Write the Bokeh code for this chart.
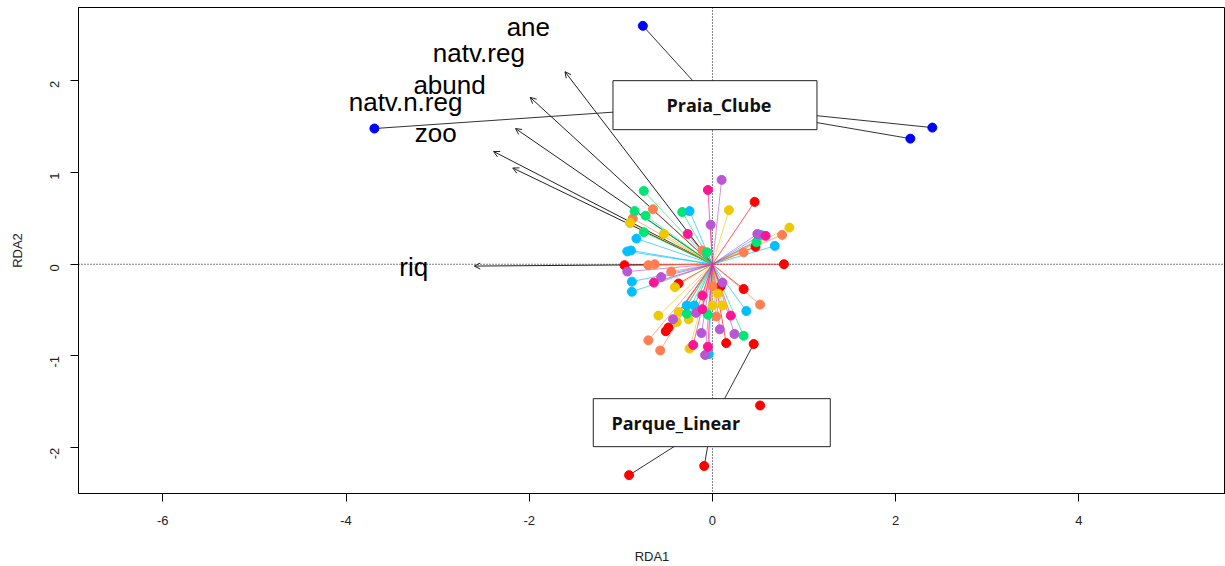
import math
from bokeh.plotting import figure
from bokeh.models import ColumnDataSource, Span, Arrow, OpenHead, Range1d, FixedTicker
from bokeh.embed import file_html
from bokeh.resources import INLINE
from bokeh.core.properties import value

# ---------------- data ----------------
# Site scores (RDA1, RDA2) by group
red_x = [0.46, 0.47, 0.78, -0.96, -0.37, -0.48, -0.51, 0.34, 0.09, 0.15]
red_y = [0.68, 0.19, 0.00, -0.01, -0.21, -0.69, -0.73, -0.27, -0.24, -0.86]

orange_x = [-0.65, -0.87, -0.11, -0.70, -0.63, -0.45, 0.76, 0.34, 0.00, 0.52, 0.04, -0.70, -0.57]
orange_y = [0.60, 0.50, 0.15, -0.01, 0.00, -0.08, 0.32, 0.13, -0.24, -0.44, -0.57, -0.83, -0.94]

gold_x = [-0.90, -0.53, 0.18, 0.84, -0.41, 0.00, 0.11, 0.06, -0.37, -0.26, -0.59, -0.39, -0.25]
gold_y = [0.45, 0.33, 0.59, 0.40, -0.25, -0.45, -0.45, -0.32, -0.52, -0.60, -0.56, -0.63, -0.92]

green_x = [-0.75, -0.85, -0.33, -0.73, -0.75, -0.06, 0.48, -0.28, -0.05, 0.34]
green_y = [0.80, 0.58, 0.57, 0.53, 0.35, 0.13, 0.24, -0.54, -0.55, -0.78]

sky_x = [-0.25, -0.83, -0.93, -0.89, 0.53, 0.68, -0.88, -0.88, -0.28, -0.20, 0.37, -0.04]
sky_y = [0.58, 0.28, 0.14, 0.15, 0.32, 0.20, -0.19, -0.30, -0.45, -0.45, -0.51, -0.98]

purple_x = [0.10, -0.02, 0.49, -0.93, -0.56, -0.18, -0.43, -0.12, -0.08, 0.11, 0.08, 0.24]
purple_y = [0.92, 0.43, 0.33, -0.08, -0.14, -0.53, -0.60, -0.75, -0.99, -0.20, -0.71, -0.76]

pink_x = [-0.05, -0.27, 0.58, -0.64, -0.11, -0.11, -0.21, -0.05, 0.20]
pink_y = [0.81, 0.33, 0.31, -0.20, -0.34, -0.49, -0.88, -0.90, -0.56]

praia_x = [-3.69, -0.76, 2.40, 2.16]
praia_y = [1.48, 2.60, 1.49, 1.37]

parque_x = [0.45, 0.52, -0.91, -0.09]
parque_y = [-0.87, -1.54, -2.30, -2.20]

# centroid of the unlabelled groups (spider centre)
central_centre = (0.0, 0.0)

# Biplot arrows (environmental variables)
env_names = ["ane", "natv.reg", "abund", "natv.n.reg", "zoo", "riq"]
env_x = [-1.61, -1.99, -2.15, -2.39, -2.18, -2.60]
env_y = [2.10, 1.82, 1.48, 1.23, 1.05, -0.02]
env_label_x = [-2.01, -2.55, -2.87, -3.35, -3.02, -3.26]
env_label_y = [2.59, 2.30, 1.96, 1.77, 1.43, -0.03]

x_ticks = [-6, -4, -2, 0, 2, 4]
y_ticks = [-2, -1, 0, 1, 2]

# ---------------- styles ----------------
central_groups = [
    ("red", red_x, red_y, "#FF0000"),
    ("orange", orange_x, orange_y, "#FF7F50"),
    ("gold", gold_x, gold_y, "#EEC900"),
    ("green", green_x, green_y, "#00E676"),
    ("sky", sky_x, sky_y, "#00BFFF"),
    ("purple", purple_x, purple_y, "#BA55D3"),
    ("pink", pink_x, pink_y, "#FF1493"),
]
labelled_groups = [
    ("Praia_Clube", praia_x, praia_y, "#0000FF", 204, 49, 4),
    ("Parque_Linear", parque_x, parque_y, "#FF0000", 237, 48, -36),
]

p = figure(width=1225, height=566, output_backend="svg", toolbar_location=None,
           x_range=Range1d(-6.92, 5.60), y_range=Range1d(-2.50, 2.80),
           min_border_left=78, min_border_right=0, min_border_top=7, min_border_bottom=71,
           background_fill_color="white", border_fill_color="white")
p.grid.visible = False
p.outline_line_color = "black"
p.outline_line_width = 1
p.outline_line_alpha = 1

for ax in (p.xaxis[0], p.yaxis[0]):
    ax.axis_line_color = "black"
    ax.major_tick_line_color = "black"
    ax.major_tick_in = 0
    ax.major_tick_out = 8
    ax.minor_tick_line_color = None
    ax.major_label_text_font = "Liberation Sans"
    ax.major_label_text_font_size = "13px"
    ax.major_label_text_color = "#222222"
    ax.axis_label_text_font = "Liberation Sans"
    ax.axis_label_text_font_size = "13px"
    ax.axis_label_text_font_style = "normal"
    ax.axis_label_text_color = "#222222"

p.xaxis.ticker = FixedTicker(ticks=x_ticks)
p.yaxis.ticker = FixedTicker(ticks=y_ticks)
p.xaxis.major_label_overrides = {t: str(t) for t in x_ticks}
p.yaxis.major_label_overrides = {t: str(t) for t in y_ticks}
p.xaxis.axis_label = "RDA1"
p.yaxis.axis_label = "RDA2"
p.xaxis.major_label_standoff = 14
p.xaxis.axis_label_standoff = 21
p.yaxis.major_label_standoff = 16
p.yaxis.major_label_orientation = math.pi / 2
p.yaxis.axis_label_standoff = 18

# dotted origin lines
p.add_layout(Span(location=0, dimension="height", line_color="black", line_width=1,
                  line_dash="1 2", level="underlay"))
p.add_layout(Span(location=0, dimension="width", line_color="black", line_width=1,
                  line_dash="1 2", level="underlay"))

# biplot arrows
arr_src = ColumnDataSource(dict(x0=[0.0] * len(env_x), y0=[0.0] * len(env_y), x1=env_x, y1=env_y))
p.add_layout(Arrow(end=OpenHead(size=6, line_color="#222222", line_width=1),
                   x_start="x0", y_start="y0", x_end="x1", y_end="y1",
                   line_color="#222222", line_width=1, source=arr_src, level="underlay"))
p.text(x=env_label_x, y=env_label_y, text=env_names, text_font=value("Liberation Sans"),
       text_font_size="26px", text_align="center", text_baseline="middle", text_color="black")

# spider lines: central groups
for name, xs, ys, col in central_groups:
    cx, cy = central_centre
    p.segment(x0=[cx] * len(xs), y0=[cy] * len(ys), x1=xs, y1=ys,
              line_color=col, line_width=1, line_alpha=0.65)

# spider lines + boxes for labelled groups
for name, xs, ys, col, bw, bh, toff in labelled_groups:
    cx = sum(xs) / len(xs)
    cy = sum(ys) / len(ys)
    p.segment(x0=[cx] * len(xs), y0=[cy] * len(ys), x1=xs, y1=ys,
              line_color="#333333", line_width=1)
    p.rect(x=[cx], y=[cy], width=bw, height=bh, width_units="screen", height_units="screen",
           fill_color="white", line_color="#222222", line_width=1)
    p.text(x=[cx], y=[cy], text=[name], x_offset=toff, text_font=value("Open Sans"),
           text_font_style="bold", text_font_size="18px", text_align="center",
           text_baseline="middle", text_color="#111111")

# points
for name, xs, ys, col in central_groups:
    p.scatter(x=xs, y=ys, size=9, fill_color=col, line_color=col)
for name, xs, ys, col, bw, bh, toff in labelled_groups:
    p.scatter(x=xs, y=ys, size=9, fill_color=col, line_color=col)

open("out.html", "w").write(file_html(p, INLINE))
